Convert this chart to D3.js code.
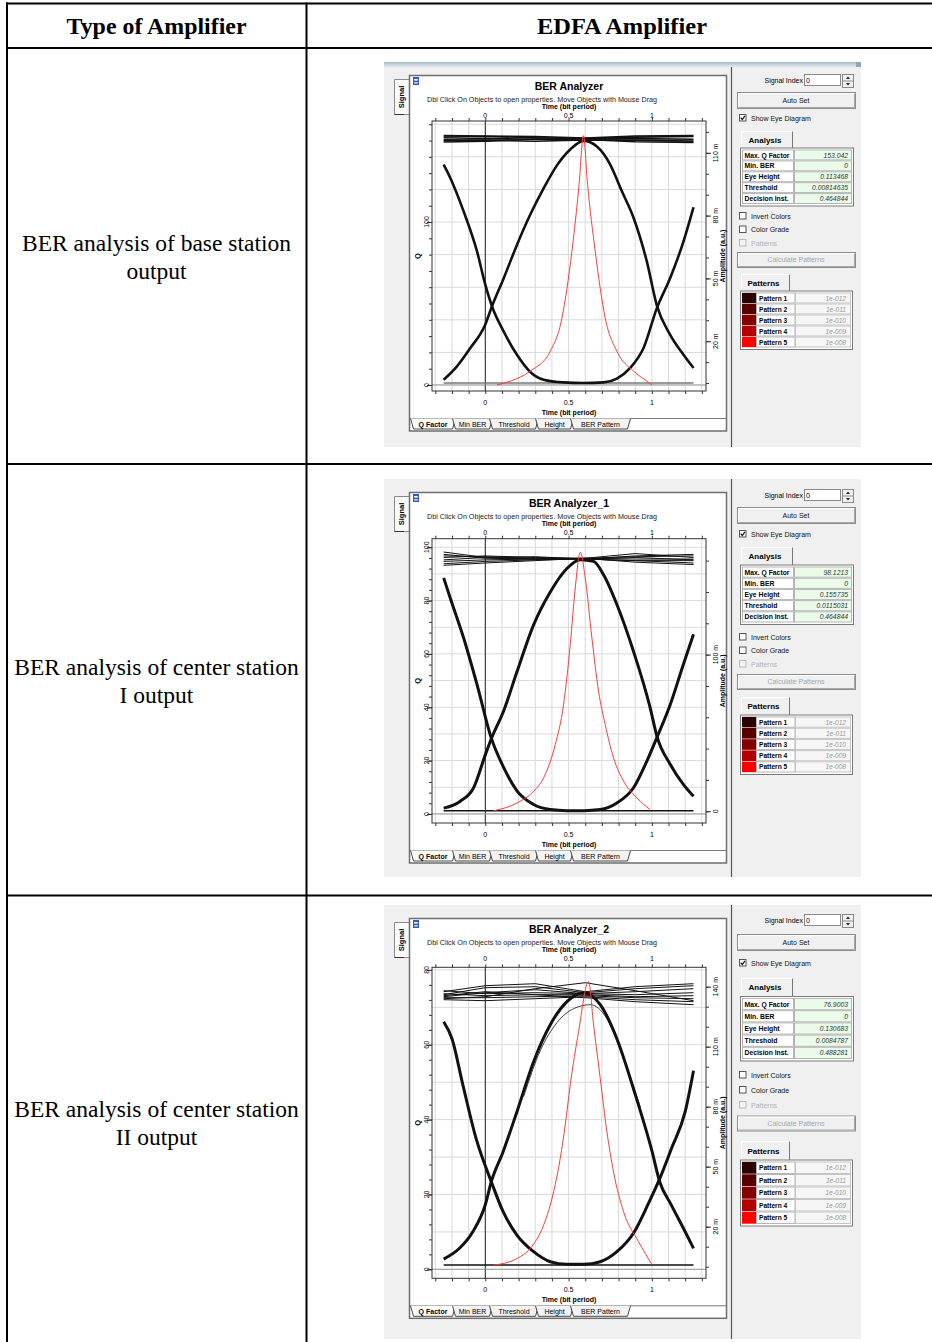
<!DOCTYPE html>
<html>
<head>
<meta charset="utf-8">
<script src="https://cdn.jsdelivr.net/npm/d3@7"></script>
<style>
  body { margin: 0; background: #fff; }
  svg { display: block; }
</style>
</head>
<body>
<script>
// ---- table text ----
var headers = ["Type of Amplifier", "EDFA Amplifier"];
var rowLabels = [
  ["BER analysis of base station", "output"],
  ["BER analysis of center station", "I output"],
  ["BER analysis of center station", "II output"]
];

// ---- analyzer panel text ----
var analyzerNames = ["BER Analyzer", "BER Analyzer_1", "BER Analyzer_2"];
var analysisLabels = ["Max. Q Factor", "Min. BER", "Eye Height", "Threshold", "Decision Inst."];
var analysisValues = [
  ["153.042", "0", "0.113468", "0.00814635", "0.464844"],
  ["98.1213", "0", "0.155735", "0.0115031", "0.464844"],
  ["76.9003", "0", "0.130683", "0.0084787", "0.488281"]
];
var patternLabels = ["Pattern 1", "Pattern 2", "Pattern 3", "Pattern 4", "Pattern 5"];
var patternBers = ["1e-012", "1e-011", "1e-010", "1e-009", "1e-008"];
var tabNames = ["Q Factor", "Min BER", "Threshold", "Height", "BER Pattern"];

// ---- axes ----
var timeTicks = [0, 0.5, 1];
var qTicks = [[0, 100], [0, 20, 40, 60, 80, 100], [0, 20, 40, 60, 80]];
var ampTicks = [[20, 50, 80, 110], [0, 100], [20, 50, 80, 110, 140]];

// ---- Q factor curves (time, Q) ----
var qCurve1 = [[0.07,0],[0.15,2.3],[0.27,8.5],[0.39,20.7],[0.46,41],[0.52,82],[0.563,123],[0.589,153],[0.614,123],[0.66,82],[0.72,41],[0.79,20.7],[0.89,8.5],[0.97,2.3],[1.0,0]];
var qCurve2 = [[0.05,1.2],[0.19,4.1],[0.29,8.5],[0.35,13.5],[0.42,26],[0.47,41],[0.51,63.5],[0.54,84.7],[0.57,98.1],[0.60,88.5],[0.64,66],[0.68,46],[0.72,33.5],[0.77,21],[0.83,12.3],[0.91,6],[0.99,1.6]];
var qCurve3 = [[0.047,1.1],[0.19,2.9],[0.27,5.6],[0.35,11.8],[0.41,20.7],[0.45,29.7],[0.48,38.6],[0.51,49.3],[0.56,63.5],[0.62,76.9],[0.65,65.3],[0.69,51],[0.73,36.8],[0.77,26],[0.83,15.4],[0.92,7.4],[1.0,1.3]];

// ---- eye traces (time, amplitude in m a.u.) ----
var pulse1 = [[-0.25,1.6],[-0.17,8],[-0.09,16.7],[0,28],[0.04,36.7],[0.11,50],[0.19,66],[0.27,80.5],[0.35,93],[0.43,104],[0.51,111.6],[0.59,115.7],[0.67,113],[0.75,104.4],[0.82,91.6],[0.89,79],[0.97,58],[1.03,37],[1.11,23],[1.19,13.5],[1.25,7.2]];
var valley1 = [[-0.25,104.4],[-0.21,98],[-0.13,82],[-0.05,63],[0,47],[0.04,36.7],[0.11,24.7],[0.19,13.5],[0.27,5.3],[0.35,1.6],[0.47,0.3],[0.59,0],[0.71,0.3],[0.79,2.1],[0.87,7.2],[0.95,16.7],[1.03,35.8],[1.11,50.2],[1.19,67.7],[1.25,84]];
var pulse2 = [[-0.25,2],[-0.15,6.4],[-0.07,15],[0,36],[0.035,46],[0.11,64],[0.19,89],[0.29,119],[0.39,140],[0.49,155],[0.57,160.6],[0.65,159.5],[0.71,151],[0.79,132],[0.89,102],[0.99,66],[1.03,48],[1.11,30],[1.19,17],[1.25,9.6]];
var valley2 = [[-0.25,149],[-0.21,136],[-0.13,110.6],[-0.05,81],[0.035,47],[0.11,28],[0.19,13],[0.29,4.3],[0.39,1.1],[0.49,0.4],[0.59,0.4],[0.69,1.1],[0.79,5.3],[0.89,15],[0.97,32],[1.03,47],[1.11,68],[1.19,94],[1.25,113]];
var pulse3 = [[-0.25,3.8],[-0.155,9.2],[-0.075,17.5],[0,31],[0.036,42.5],[0.107,57.5],[0.19,77.5],[0.29,102.5],[0.39,121],[0.49,132.5],[0.59,137],[0.69,131],[0.79,114],[0.895,87.5],[1.0,58],[1.047,42.5],[1.117,30.8],[1.2,17.5],[1.25,9.2]];
var pulse3b = [[0.23,85],[0.33,108],[0.43,122],[0.53,129],[0.63,131],[0.73,124],[0.83,104],[0.93,80]];
var valley3 = [[-0.25,122.5],[-0.2,114],[-0.135,91],[-0.055,64],[0.036,42.5],[0.107,27.5],[0.19,15.8],[0.29,7.5],[0.39,2.5],[0.49,1.2],[0.59,1.2],[0.69,2.5],[0.79,7.5],[0.895,17.5],[0.976,31],[1.047,44],[1.117,59],[1.2,77.5],[1.25,98]];

// top ("1 1 1") rail traces, amplitude at railTimes
var railTimes = [-0.25, 0, 0.3, 0.6, 0.9, 1.25];
var topRail1 = [[117.5,117.8,117.2,116.8,117.5,117.8],[116.5,116.8,116.5,116.5,116.8,116.5],[115.8,116,115.5,116.2,116,115.6],[118.2,118,117.8,117,118,118.3],[115.2,115.5,116.6,116.4,115.3,115]];
var topRail2 = [[165.5,162,161,161,163,164],[164,161.5,161,161.5,164.5,162],[163,162.5,161.5,161,162,160.5],[162,163,162,161.5,161,161],[160.5,162,162.5,161,160,160],[159.5,160.5,161,161.5,162.5,163],[158,159.5,160.5,161,160,158.5],[157,158.5,160,161.5,159,157.5]];
var topRail3 = [[137.5,140.5,141.5,137.5,140,141.5],[136,139.5,140,137,139,140.5],[135,137,138.5,136.5,137.5,139],[138,136.5,137,136.5,136,137],[136.5,135.5,136,136,135,135.5],[134.5,134.5,135,135.5,134.5,134],[133.5,133,134,135,133.5,132.5],[134,135,139,142,138,133],[135.5,137.5,136,134.5,132.5,131]];
var bottomRails = [0, 0.4, 0.8];

var qCurves = [qCurve1, qCurve2, qCurve3];
var pulses = [[pulse1], [pulse2], [pulse3, pulse3b]];
var valleys = [valley1, valley2, valley3];
var topRails = [topRail1, topRail2, topRail3];

// ---- layout of the three screenshots ----
var shots = [
  {top: 62, height: 385, plotTop: 121, plotBottom: 391, qDomain: [-3.7, 162], ampDomain: [-3.8, 125.2],
   qGrid: 20, qMinor: 10, ampMinor: 10, bar: true, lw: 2.6,
   rp: {sig: 18, auto: 30, eye: 56, anaTab: 69, anaTable: 87.5, anaRow: 10.9, invert: 154, chkGap: 13.5, calc: 190, patTab: 212, patTable: 230.5, patRow: 11}},
  {top: 479, height: 398, plotTop: 538.7, plotBottom: 823, qDomain: [-3.4, 103.2], ampDomain: [-7.5, 174],
   qGrid: 10, qMinor: 4, ampMinor: 20, bar: false, lw: 3,
   rp: {sig: 16, auto: 28, eye: 55, anaTab: 68, anaTable: 87.5, anaRow: 11.2, invert: 158, chkGap: 13.5, calc: 195, patTab: 218, patTable: 237.5, patRow: 11.2}},
  {top: 905, height: 434, plotTop: 967.3, plotBottom: 1278.3, qDomain: [-2.4, 80.7], ampDomain: [-5.8, 149.7],
   qGrid: 10, qMinor: 4, ampMinor: 10, bar: false, lw: 3,
   rp: {sig: 15, auto: 29, eye: 58, anaTab: 73, anaTable: 93, anaRow: 12.2, invert: 170, chkGap: 15, calc: 210.5, patTab: 236, patTable: 256.5, patRow: 12.5}}
];
var plotLeft = 432, plotRight = 706;
var tabEdges = [412, 454, 491, 537, 572, 629];
var swatchColors = ["#2b0000", "#560000", "#820000", "#b30000", "#ff0000"];

var serif = "'Liberation Serif', 'Times New Roman', serif";
var ui = "'Liberation Sans', Arial, sans-serif";

var svg = d3.select("body").append("svg")
    .attr("width", 932)
    .attr("height", 1342);
svg.append("rect").attr("width", 932).attr("height", 1342).attr("fill", "#fff");

var defs = svg.append("defs");
var grad = defs.append("linearGradient").attr("id", "bar").attr("x1", 0).attr("x2", 0).attr("y1", 0).attr("y2", 1);
grad.append("stop").attr("offset", "0%").attr("stop-color", "#a7b9cc");
grad.append("stop").attr("offset", "100%").attr("stop-color", "#e3e9f0");

// ---- table ----
var tbl = svg.append("g");
tbl.selectAll(".hline").data([3.5, 48, 464, 895.5]).join("line")
    .attr("class", "hline")
    .attr("x1", 6).attr("x2", 932)
    .attr("y1", d => d).attr("y2", d => d)
    .attr("stroke", "#000").attr("stroke-width", 2);
tbl.selectAll(".vline").data([7, 306.5]).join("line")
    .attr("class", "vline")
    .attr("x1", d => d).attr("x2", d => d)
    .attr("y1", 2.5).attr("y2", 1342)
    .attr("stroke", "#000").attr("stroke-width", 2);

tbl.selectAll(".head").data(headers).join("text")
    .attr("class", "head")
    .attr("x", (d, i) => [156.5, 622][i])
    .attr("y", 34)
    .attr("text-anchor", "middle")
    .attr("font-family", serif)
    .attr("font-weight", "bold")
    .attr("font-size", 24)
    .attr("textLength", (d, i) => [180, 170][i])
    .attr("lengthAdjust", "spacingAndGlyphs")
    .text(d => d);

var rowBase = [250.5, 674.5, 1116.5];
rowLabels.forEach(function(lines, i) {
  tbl.append("text")
      .attr("font-family", serif)
      .attr("font-size", 23.5)
      .attr("text-anchor", "middle")
      .selectAll("tspan").data(lines).join("tspan")
      .attr("x", 156.5)
      .attr("y", (d, j) => rowBase[i] + j * 28)
      .text(d => d);
});

// ---- helpers ----
function button(g, x, y, w, h, label, disabled) {
  g.append("rect").attr("x", x + 0.5).attr("y", y + 0.5).attr("width", w).attr("height", h)
      .attr("fill", "#f0f0f0").attr("stroke", "#8c8c8c");
  g.append("path").attr("d", "M" + (x + 1.5) + "," + (y + h - 0.5) + "V" + (y + 1.5) + "H" + (x + w - 0.5))
      .attr("fill", "none").attr("stroke", "#fff");
  g.append("path").attr("d", "M" + (x + 1.5) + "," + (y + h - 0.5) + "H" + (x + w - 0.5) + "V" + (y + 1.5))
      .attr("fill", "none").attr("stroke", "#a8a8a8");
  g.append("text").attr("x", x + w / 2).attr("y", y + h / 2 + 2.6)
      .attr("text-anchor", "middle").attr("font-size", 7)
      .attr("fill", disabled ? "#a6a6a6" : "#111").text(label);
}

function checkbox(g, x, y, label, checked, disabled) {
  g.append("rect").attr("x", x).attr("y", y - 3.5).attr("width", 6.5).attr("height", 6.5)
      .attr("fill", disabled ? "#f4f4f4" : "#fff").attr("stroke", disabled ? "#b8b8b8" : "#555");
  if (checked) {
    g.append("path").attr("d", "M" + (x + 1.2) + "," + (y - 0.3) + "L" + (x + 2.8) + "," + (y + 1.6) + "L" + (x + 5.4) + "," + (y - 2.2))
        .attr("fill", "none").attr("stroke", "#111").attr("stroke-width", 1.2);
  }
  g.append("text").attr("x", x + 11.5).attr("y", y + 2.5).attr("font-size", 7)
      .attr("fill", disabled ? "#b0b0b0" : "#111").text(label);
}

function tab(g, x, y, w, h, label) {
  g.append("rect").attr("x", x).attr("y", y).attr("width", w).attr("height", h).attr("fill", "#f0f0f0");
  g.append("path").attr("d", "M" + (x + 0.5) + "," + (y + h) + "V" + (y + 0.5) + "H" + (x + w))
      .attr("fill", "none").attr("stroke", "#fff");
  g.append("path").attr("d", "M" + (x + w - 0.5) + "," + (y + 0.5) + "V" + (y + h))
      .attr("fill", "none").attr("stroke", "#777");
  g.append("text").attr("x", x + w / 2 - 2).attr("y", y + h / 2 + 3)
      .attr("text-anchor", "middle").attr("font-size", 8).attr("font-weight", "bold").text(label);
}

// ---- right control panel ----
function drawRight(g, s, i) {
  var t = s.top, r = s.rp;
  g.append("line").attr("x1", 731.5).attr("x2", 731.5)
      .attr("y1", t + (s.bar ? 5 : 0)).attr("y2", t + s.height)
      .attr("stroke", "#555").attr("stroke-width", 1.2);

  // signal index
  g.append("text").attr("x", 803).attr("y", t + r.sig + 2.5).attr("text-anchor", "end")
      .attr("font-size", 7).text("Signal Index");
  g.append("rect").attr("x", 804.5).attr("y", t + r.sig - 5.5).attr("width", 36).attr("height", 11)
      .attr("fill", "#fff").attr("stroke", "#8a8a8a");
  g.append("text").attr("x", 806).attr("y", t + r.sig + 2.5).attr("font-size", 7).text("0");
  g.append("rect").attr("x", 842.5).attr("y", t + r.sig - 5.5).attr("width", 11).attr("height", 13)
      .attr("fill", "#f0f0f0").attr("stroke", "#8a8a8a");
  g.append("line").attr("x1", 842.5).attr("x2", 853.5).attr("y1", t + r.sig + 1).attr("y2", t + r.sig + 1)
      .attr("stroke", "#8a8a8a");
  g.append("path").attr("d", "M846," + (t + r.sig - 1) + "h4l-2,-2.5z M846," + (t + r.sig + 3) + "h4l-2,2.5z")
      .attr("fill", "#222");

  button(g, 737, t + r.auto, 118, 16, "Auto Set", false);
  checkbox(g, 739.5, t + r.eye, "Show Eye Diagram", true, false);

  // analysis table
  tab(g, 741, t + r.anaTab, 52, r.anaTable - r.anaTab - 1.5, "Analysis");
  var aTop = t + r.anaTable, rh = r.anaRow;
  g.append("rect").attr("x", 740.5).attr("y", aTop - 1.5).attr("width", 113).attr("height", 5 * rh + 3.5)
      .attr("fill", "#fff").attr("stroke", "#7a7a7a");
  var rows = g.append("g").selectAll("g").data(analysisLabels).join("g")
      .attr("transform", (d, k) => "translate(0," + (aTop + k * rh) + ")");
  rows.append("rect").attr("x", 742.5).attr("y", 0.5).attr("width", 51).attr("height", rh - 1)
      .attr("fill", "#fff").attr("stroke", "#b5b5b5");
  rows.append("rect").attr("x", 794.5).attr("y", 0.5).attr("width", 57).attr("height", rh - 1)
      .attr("fill", "#eafbe9").attr("stroke", "#b5b5b5");
  rows.append("text").attr("x", 744.5).attr("y", rh / 2 + 2.6).attr("font-size", 6.8)
      .attr("font-weight", "bold").text(d => d);
  rows.append("text").attr("x", 848).attr("y", rh / 2 + 2.6).attr("font-size", 6.8)
      .attr("font-style", "italic").attr("text-anchor", "end").attr("fill", "#333")
      .text((d, k) => analysisValues[i][k]);

  checkbox(g, 739.5, t + r.invert, "Invert Colors", false, false);
  checkbox(g, 739.5, t + r.invert + r.chkGap, "Color Grade", false, false);
  checkbox(g, 739.5, t + r.invert + 2 * r.chkGap, "Patterns", false, true);
  button(g, 737, t + r.calc, 118, 15, "Calculate Patterns", true);

  // patterns table
  tab(g, 741, t + r.patTab, 49, r.patTable - r.patTab - 1.5, "Patterns");
  var pTop = t + r.patTable, ph = r.patRow;
  g.append("rect").attr("x", 740.5).attr("y", pTop - 1.5).attr("width", 112).attr("height", 5 * ph + 3.5)
      .attr("fill", "#fff").attr("stroke", "#7a7a7a");
  var prow = g.append("g").selectAll("g").data(patternLabels).join("g")
      .attr("transform", (d, k) => "translate(0," + (pTop + k * ph) + ")");
  prow.append("rect").attr("x", 742).attr("y", 0.3).attr("width", 14.5).attr("height", ph - 0.6)
      .attr("fill", (d, k) => swatchColors[k]);
  prow.append("rect").attr("x", 756.5).attr("y", 0.5).attr("width", 38.5).attr("height", ph - 1)
      .attr("fill", "#fff").attr("stroke", "#b5b5b5");
  prow.append("rect").attr("x", 795.5).attr("y", 0.5).attr("width", 55).attr("height", ph - 1)
      .attr("fill", "#f6f6f6").attr("stroke", "#c5c5c5");
  prow.append("text").attr("x", 759).attr("y", ph / 2 + 2.5).attr("font-size", 6.6)
      .attr("font-weight", "bold").text(d => d);
  prow.append("text").attr("x", 846).attr("y", ph / 2 + 2.5).attr("font-size", 6.6)
      .attr("font-style", "italic").attr("text-anchor", "end").attr("fill", "#9a9a9a")
      .text((d, k) => patternBers[k]);
}

// ---- one analyzer screenshot ----
function drawShot(i) {
  var s = shots[i], top = s.top, pt = s.plotTop, pb = s.plotBottom;
  var g = svg.append("g").attr("font-family", ui);

  g.append("rect").attr("x", 384).attr("y", top).attr("width", 477).attr("height", s.height).attr("fill", "#f0f0f0");
  if (s.bar) {
    g.append("rect").attr("x", 384).attr("y", top).attr("width", 477).attr("height", 5).attr("fill", "url(#bar)");
    g.append("rect").attr("x", 856).attr("y", top).attr("width", 5).attr("height", 5).attr("fill", "#9aa3ad");
  }

  // "Signal" side tab
  g.append("path").attr("d", "M409," + (top + 17.5) + "H394.5V" + (top + 52.5) + "H409")
      .attr("fill", "#fafafa").attr("stroke", "#8a8a8a");
  g.append("line").attr("x1", 394.5).attr("x2", 404).attr("y1", top + 52.5).attr("y2", top + 52.5)
      .attr("stroke", "#333");
  g.append("text").attr("transform", "translate(404," + (top + 35) + ") rotate(-90)")
      .attr("text-anchor", "middle").attr("font-size", 7.5).attr("font-weight", "bold").text("Signal");

  // white graph panel
  g.append("rect").attr("x", 409.5).attr("y", top + 13.5).attr("width", 317).attr("height", pb + 40 - top - 13.5)
      .attr("fill", "#fff").attr("stroke", "#6e6e6e").attr("stroke-width", 1.5);
  g.append("rect").attr("x", 413).attr("y", top + 15).attr("width", 6).attr("height", 8).attr("fill", "#3557c4");
  g.append("rect").attr("x", 414.2).attr("y", top + 17).attr("width", 3.6).attr("height", 1.6).attr("fill", "#fff");
  g.append("rect").attr("x", 414.2).attr("y", top + 20).attr("width", 3.6).attr("height", 1.6).attr("fill", "#c9d4f5");

  var cx = (plotLeft + plotRight) / 2;
  g.append("text").attr("x", cx).attr("y", top + 28).attr("text-anchor", "middle")
      .attr("font-size", 10.5).attr("font-weight", "bold").text(analyzerNames[i]);
  g.append("text").attr("x", 542).attr("y", top + 39.5).attr("text-anchor", "middle")
      .attr("font-size", 7.2).attr("fill", "#222")
      .text("Dbl Click On Objects to open properties.  Move Objects with Mouse Drag");
  g.append("text").attr("x", cx).attr("y", top + 47).attr("text-anchor", "middle")
      .attr("font-size", 7).attr("font-weight", "bold").text("Time (bit period)");
  g.append("text").attr("x", cx).attr("y", pb + 23.5).attr("text-anchor", "middle")
      .attr("font-size", 7).attr("font-weight", "bold").text("Time (bit period)");

  // scales
  var x = d3.scaleLinear().domain([-0.32, 1.325]).range([plotLeft, plotRight]);
  var yQ = d3.scaleLinear().domain(s.qDomain).range([pb, pt]);
  var yA = d3.scaleLinear().domain(s.ampDomain).range([pb, pt]);

  // grid
  var tGrid = d3.range(-3, 14).map(k => k / 10);
  var qGrid = d3.range(0, s.qDomain[1], s.qGrid);
  g.append("g").selectAll("line").data(tGrid).join("line")
      .attr("x1", d => x(d)).attr("x2", d => x(d)).attr("y1", pt).attr("y2", pb)
      .attr("stroke", "#d9d9d9");
  g.append("g").selectAll("line").data(qGrid).join("line")
      .attr("x1", plotLeft).attr("x2", plotRight).attr("y1", d => yQ(d)).attr("y2", d => yQ(d))
      .attr("stroke", "#d9d9d9");
  g.append("line").attr("x1", x(0)).attr("x2", x(0)).attr("y1", pt).attr("y2", pb)
      .attr("stroke", "#222");
  g.append("line").attr("x1", plotLeft).attr("x2", plotRight).attr("y1", yQ(0)).attr("y2", yQ(0))
      .attr("stroke", "#9a9a9a");

  // ticks
  function ticks(axis, tx, ty) {
    g.append("g").attr("transform", "translate(" + tx + "," + ty + ")").call(axis)
        .call(a => a.select(".domain").remove())
        .call(a => a.selectAll("line").attr("stroke", "#333"));
  }
  ticks(d3.axisBottom(x).tickValues(tGrid).tickSize(3).tickFormat(""), 0, pb);
  ticks(d3.axisTop(x).tickValues(tGrid).tickSize(3).tickFormat(""), 0, pt);
  ticks(d3.axisLeft(yQ).tickValues(d3.range(0, s.qDomain[1], s.qMinor)).tickSize(3).tickFormat(""), plotLeft, 0);
  ticks(d3.axisLeft(yQ).tickValues(qTicks[i]).tickSize(5).tickFormat(""), plotLeft, 0);
  ticks(d3.axisRight(yA).tickValues(d3.range(0, s.ampDomain[1], s.ampMinor)).tickSize(3).tickFormat(""), plotRight, 0);
  ticks(d3.axisRight(yA).tickValues(ampTicks[i]).tickSize(5).tickFormat(""), plotRight, 0);

  g.append("rect").attr("x", plotLeft).attr("y", pt).attr("width", plotRight - plotLeft).attr("height", pb - pt)
      .attr("fill", "none").attr("stroke", "#333");

  // tick labels
  var fmt = d3.format("~g");
  g.append("g").selectAll("text").data(timeTicks).join("text")
      .attr("x", d => x(d)).attr("y", top + 55.5).attr("text-anchor", "middle").attr("font-size", 7)
      .text(d => fmt(d));
  g.append("g").selectAll("text").data(timeTicks).join("text")
      .attr("x", d => x(d)).attr("y", pb + 14).attr("text-anchor", "middle").attr("font-size", 7)
      .text(d => fmt(d));
  g.append("g").selectAll("text").data(qTicks[i]).join("text")
      .attr("transform", d => "translate(428.5," + yQ(d) + ") rotate(-90)")
      .attr("text-anchor", "middle").attr("font-size", 7).text(d => fmt(d));
  g.append("g").selectAll("text").data(ampTicks[i]).join("text")
      .attr("transform", d => "translate(717.5," + yA(d) + ") rotate(-90)")
      .attr("text-anchor", "middle").attr("font-size", 7).text(d => d === 0 ? "0" : d + " m");
  g.append("text").attr("transform", "translate(420," + ((pt + pb) / 2) + ") rotate(-90)")
      .attr("text-anchor", "middle").attr("font-size", 7.5).attr("font-weight", "bold").text("Q");
  g.append("text").attr("transform", "translate(725," + ((pt + pb) / 2) + ") rotate(-90)")
      .attr("text-anchor", "middle").attr("font-size", 7).attr("font-weight", "bold").text("Amplitude (a.u.)");

  // curves
  var clipId = "clip" + i;
  defs.append("clipPath").attr("id", clipId).append("rect")
      .attr("x", plotLeft).attr("y", pt).attr("width", plotRight - plotLeft).attr("height", pb - pt);
  var plot = g.append("g").attr("clip-path", "url(#" + clipId + ")");
  var lineA = d3.line().x(d => x(d[0])).y(d => yA(d[1])).curve(d3.curveMonotoneX);
  var railLine = d3.line().x(d => x(d[0])).y(d => yA(d[1]));
  var lineQ = d3.line().x(d => x(d[0])).y(d => yQ(d[1])).curve(d3.curveMonotoneX);

  plot.append("path").attr("d", lineA([[-0.25, bottomRails[i]], [1.25, bottomRails[i]]]))
      .attr("fill", "none").attr("stroke", i === 0 ? "#777" : "#111").attr("stroke-width", 1.5);
  plot.selectAll(".rail").data(topRails[i]).join("path")
      .attr("class", "rail")
      .attr("d", tr => railLine(tr.map((v, k) => [railTimes[k], v])))
      .attr("fill", "none").attr("stroke", "#111").attr("stroke-width", i === 0 ? 1.6 : 1);
  plot.append("path").attr("d", lineA(valleys[i]))
      .attr("fill", "none").attr("stroke", "#111").attr("stroke-width", s.lw);
  plot.selectAll(".pulse").data(pulses[i]).join("path")
      .attr("class", "pulse")
      .attr("d", p => lineA(p))
      .attr("fill", "none").attr("stroke", "#111").attr("stroke-width", (p, k) => k === 0 ? s.lw : 0.8);
  plot.append("path").attr("d", lineQ(qCurves[i]))
      .attr("fill", "none").attr("stroke", "#ff3b3b").attr("stroke-width", 1);

  // bottom tabs
  var tTop = pb + 27, tBot = pb + 38;
  g.append("line").attr("x1", 410).attr("x2", 726).attr("y1", tTop + 0.5).attr("y2", tTop + 0.5)
      .attr("stroke", "#777");
  var tabs = g.append("g").selectAll("g").data(tabNames).join("g");
  tabs.append("path")
      .attr("d", (d, k) => {
        var l = tabEdges[k] - 1.5, rr = tabEdges[k + 1] + 1.5;
        return "M" + l + "," + (tTop + 0.5) + "L" + (l + 3) + "," + tBot + "L" + (rr - 3) + "," + tBot + "L" + rr + "," + (tTop + 0.5);
      })
      .attr("fill", (d, k) => k === 0 ? "#fff" : "#f3f3f3")
      .attr("stroke", "#333").attr("stroke-width", 0.9);
  tabs.append("text")
      .attr("x", (d, k) => (tabEdges[k] + tabEdges[k + 1]) / 2)
      .attr("y", pb + 35.5).attr("text-anchor", "middle").attr("font-size", 7)
      .attr("font-weight", (d, k) => k === 0 ? "bold" : "normal")
      .text(d => d);

  drawRight(g, s, i);
}

shots.forEach(function(s, i) { drawShot(i); });
</script>
</body>
</html>
